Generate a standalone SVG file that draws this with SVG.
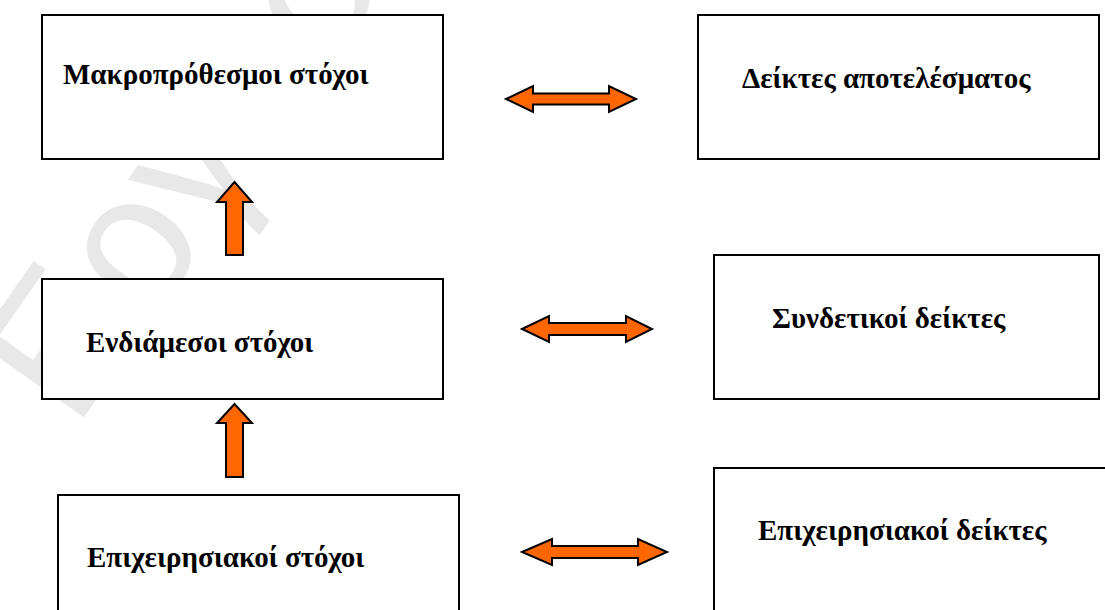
<svg xmlns="http://www.w3.org/2000/svg" width="1105" height="610" viewBox="0 0 1105 610">
<style>
.box{fill:#fff;stroke:#000;stroke-width:2}
.lbl{font-family:"Liberation Serif","Times New Roman",serif;font-weight:bold;font-size:29px;fill:#000}
.arr{fill:#ff6600;stroke:#000;stroke-width:2;stroke-linejoin:miter}
.wm{font-family:"Liberation Sans",Arial,sans-serif;font-size:190px;fill:#e8e8e8}
</style>
<rect width="1105" height="610" fill="#fff"/>
<text class="wm" transform="translate(75,430) rotate(-55)">Εργασία</text>
<g id="n1"><rect class="box" x="42" y="15" width="401" height="144"/><text class="lbl" x="63" y="84">Μακροπρόθεσμοι στόχοι</text></g>
<g id="n2"><rect class="box" x="42" y="279" width="401" height="120"/><text class="lbl" x="86" y="352">Ενδιάμεσοι στόχοι</text></g>
<g id="n3"><rect class="box" x="58" y="495" width="401" height="130"/><text class="lbl" x="87" y="567">Επιχειρησιακοί στόχοι</text></g>
<g id="n4"><rect class="box" x="698" y="15" width="401" height="144"/><text class="lbl" x="742" y="88">Δείκτες αποτελέσματος</text></g>
<g id="n5"><rect class="box" x="714" y="255" width="385" height="144"/><text class="lbl" x="772" y="328">Συνδετικοί δείκτες</text></g>
<g id="n6"><rect class="box" x="714" y="468" width="400" height="160"/><text class="lbl" x="758" y="540">Επιχειρησιακοί δείκτες</text></g>
<g id="connectors">
<path class="arr" d="M506,99 L533,86 L533,93.5 L609,93.5 L609,86 L636,99 L609,112 L609,104.5 L533,104.5 L533,112 Z"/>
<path class="arr" d="M522,329 L549,316 L549,323 L626,323 L626,316 L652,329 L626,342 L626,335 L549,335 L549,342 Z"/>
<path class="arr" d="M522,552 L552,539 L552,546 L638,546 L638,539 L667,552 L638,565 L638,558 L552,558 L552,565 Z"/>
<path class="arr" d="M234.5,182 L252,202 L243,202 L243,255 L226,255 L226,202 L217,202 Z"/>
<path class="arr" d="M234.5,404 L252,423 L243,423 L243,477 L226,477 L226,423 L217,423 Z"/>
</g>
</svg>
